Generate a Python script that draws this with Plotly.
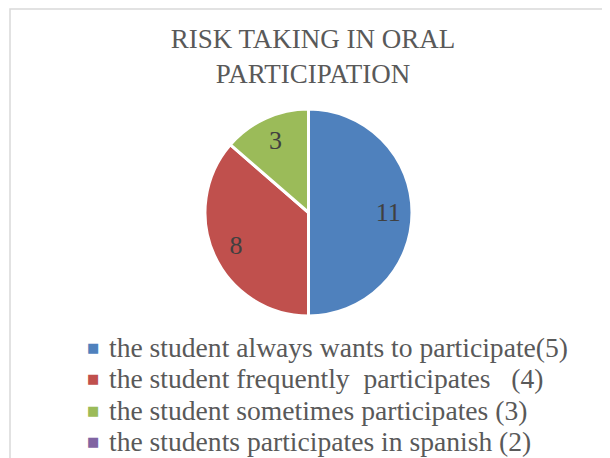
import plotly.graph_objects as go

labels = [
    "the student always wants to participate(5)",
    "the student frequently  participates   (4)",
    "the student sometimes participates (3)",
    "the students participates in spanish (2)",
]
values = [11, 8, 3, 0]
colors = ["#4f81bd", "#c0504d", "#9bbb59", "#8064a2"]
title_text = "RISK TAKING IN ORAL<br>PARTICIPATION"

W, H = 610, 458
S = 8  # page offset of the figure inside the window
cx, cy, r = 308.5 - S, 212.5 - S, 103.5
dom = dict(x=[(cx - r) / W, (cx + r) / W], y=[1 - (cy + r) / H, 1 - (cy - r) / H])

common = dict(labels=labels, values=values, sort=False, direction="clockwise", rotation=0,
              domain=dom, showlegend=False, hoverinfo="label+value")

fig = go.Figure()
# full disc with white separators
fig.add_trace(go.Pie(textinfo="none",
                     marker=dict(colors=colors, line=dict(color="white", width=3)),
                     **common))
# transparent ring on top carries the value labels (places them toward the rim)
fig.add_trace(go.Pie(hole=0.54, textinfo="value", textposition="inside",
                     insidetextorientation="horizontal",
                     marker=dict(colors=["rgba(0,0,0,0)"] * len(values), line=dict(width=0)),
                     insidetextfont=dict(family="Liberation Serif", size=26, color="#404040"),
                     **common))

# legend drawn as text entries (markers + labels)
leg_x_marker, leg_x_text, leg_y0, leg_dy = 92.5 - S, 106.5 - S, 347 - S, 31.5
annotations = []
for i, (lab, col) in enumerate(zip(labels, colors)):
    yy = 1 - (leg_y0 + i * leg_dy) / H
    annotations.append(dict(text="■", x=leg_x_marker / W, y=yy, xref="paper", yref="paper",
                            xanchor="center", yanchor="middle", showarrow=False,
                            font=dict(family="DejaVu Sans", size=13, color=col)))
    annotations.append(dict(text=lab, x=leg_x_text / W, y=yy, xref="paper", yref="paper",
                            xanchor="left", yanchor="middle", showarrow=False,
                            font=dict(family="Liberation Serif", size=27.6, color="#595959")))

fig.update_layout(
    width=W, height=H,
    margin=dict(l=0, r=0, t=0, b=0),
    paper_bgcolor="white",
    title=dict(text=title_text, x=(313 - S) / W, xanchor="center", y=1 - 40 / H, yanchor="top",
               font=dict(family="Liberation Serif", size=27, color="#595959")),
    showlegend=False,
    annotations=annotations,
    shapes=[dict(type="rect", xref="paper", yref="paper",
                 x0=(10 - S) / W, x1=1.05, y0=-0.05, y1=1 - 1 / H,
                 line=dict(color="#d9d9d9", width=1.5), fillcolor="rgba(0,0,0,0)", layer="below")],
)

fig.write_html("out.html")
